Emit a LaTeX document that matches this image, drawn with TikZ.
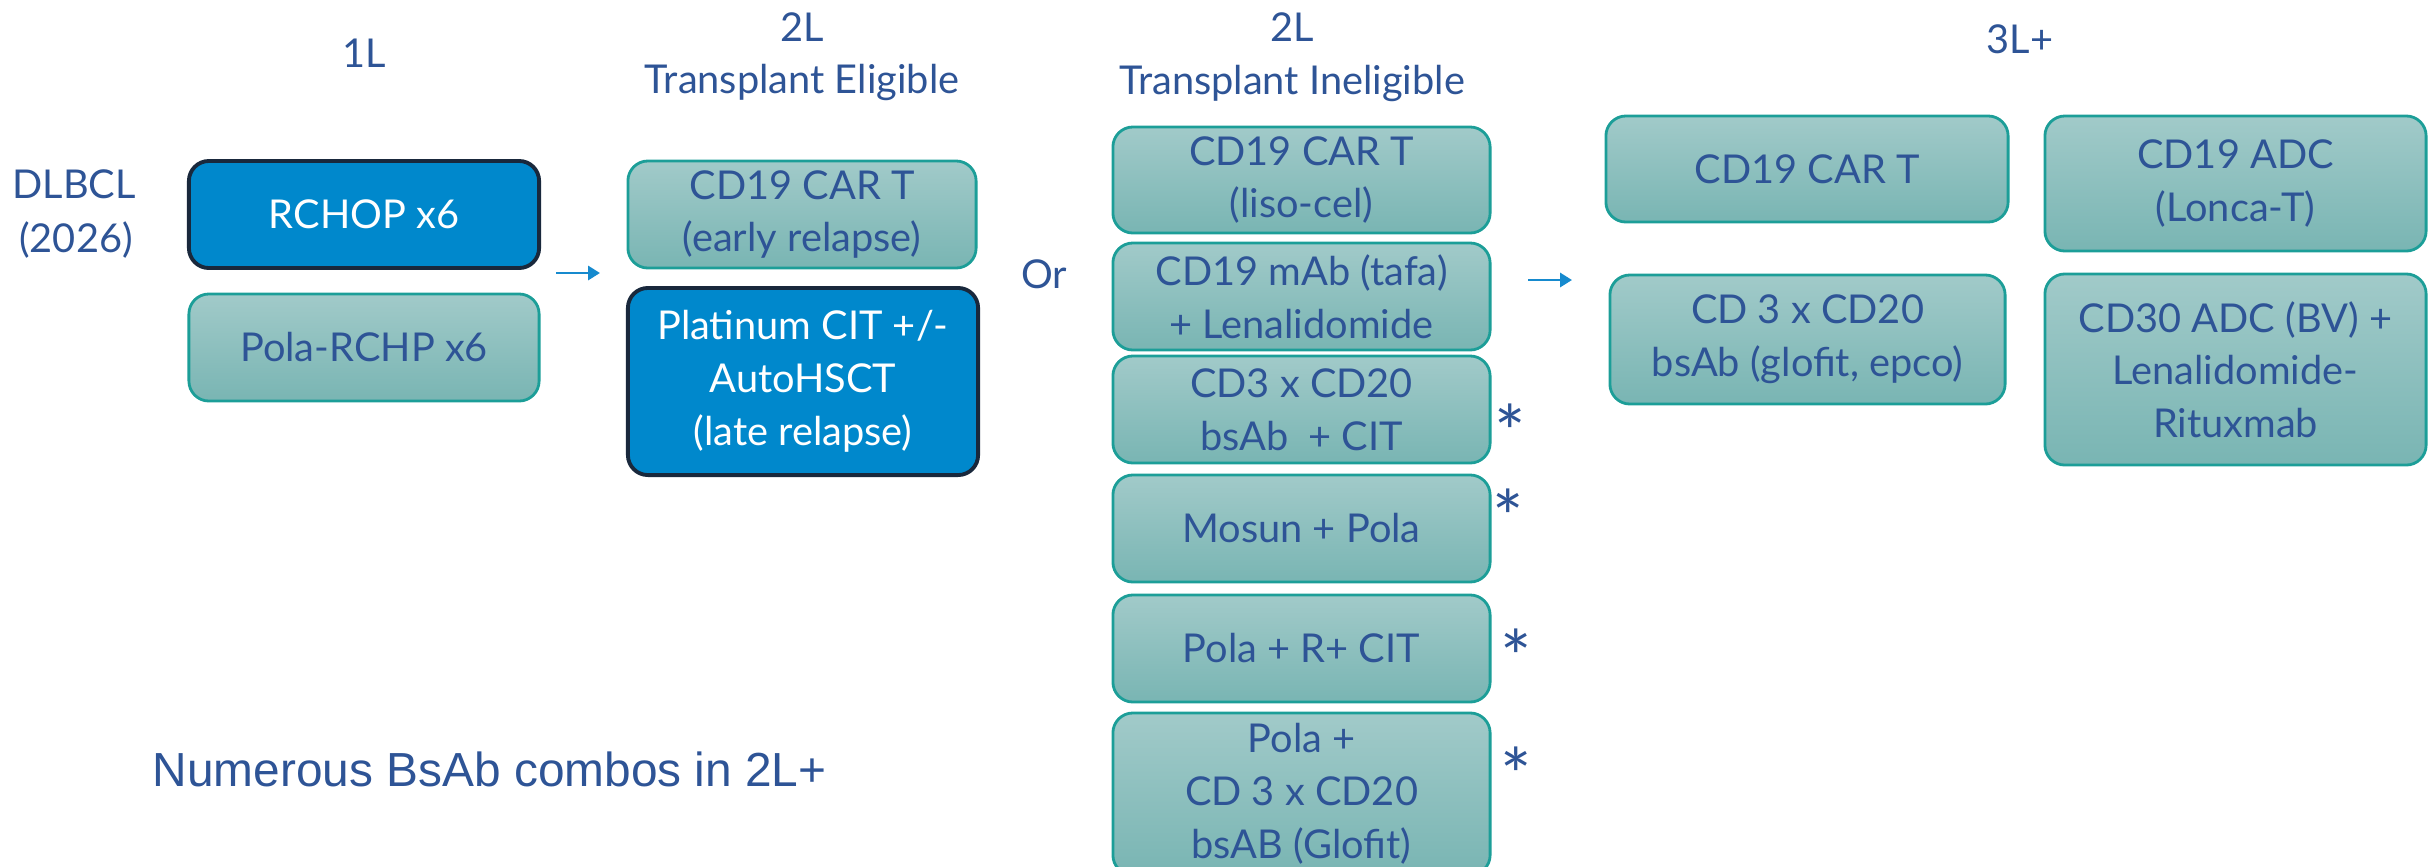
\documentclass[tikz,border=0pt]{standalone}
\usepackage{fontspec}
\usetikzlibrary{arrows.meta}
\newfontfamily\lato{Lato}
\newfontfamily\arialike{Liberation Sans}
\definecolor{boxblue}{RGB}{0,136,204}
\definecolor{navyedge}{RGB}{25,40,60}
\definecolor{tealtop}{RGB}{161,202,201}
\definecolor{tealbot}{RGB}{121,181,179}
\definecolor{tealedge}{RGB}{28,158,152}
\definecolor{txtblue}{RGB}{46,84,150}
\definecolor{arrowblue}{RGB}{22,138,206}
\newcommand{\boxfont}{\lato\fontsize{11.3}{15}\selectfont}
\tikzset{
  box/.style={rounded corners=0.2cm, inner sep=0pt, align=center, font=\boxfont, text=txtblue},
  tealbox/.style={box, draw=tealedge, line width=0.8pt, top color=tealtop, bottom color=tealbot},
  bluebox/.style={box, draw=navyedge, line width=1.1pt, fill=boxblue, text=white},
  hdr/.style={font=\boxfont, text=txtblue, align=center, inner sep=0pt, anchor=base},
  star/.style={font=\lato\fontsize{21}{21}\selectfont, text=txtblue, inner sep=0pt, anchor=north},
  flow/.style={draw=arrowblue, line width=0.8pt, -{Triangle[length=3.4pt,width=4pt]}},
}
\begin{document}
\begin{tikzpicture}[x=0.01cm, y=-0.01cm]
\useasboundingbox (0,0) rectangle (2428,866);
\clip (0,0) rectangle (2428,866);

% column headings
\node[hdr] (h1) at (364,67) {1L};
\node[hdr] (h2a) at (802,41) {2L};
\node[hdr] (h2b) at (802,93) {Transplant Eligible};
\node[hdr] (h3a) at (1292,41) {2L};
\node[hdr] (h3b) at (1292,94) {Transplant Ineligible};
\node[hdr] (h4) at (2020,53) {3L+};

% disease label
\node[hdr] (dis1) at (74,198) {DLBCL};
\node[hdr] (dis2) at (76,252) {(2026)};

% first line
\node[bluebox, minimum width=3.5cm, minimum height=1.07cm] (rchop) at (364,214.5) {RCHOP x6};
\node[tealbox, minimum width=3.5cm, minimum height=1.07cm] (polar) at (364,347.5) {Pola-RCHP x6};

% second line, transplant eligible
\node[tealbox, minimum width=3.48cm, minimum height=1.07cm] (cart2) at (802,214.5) {CD19 CAR T\\(early relapse)};
\node[bluebox, minimum width=3.5cm, minimum height=1.87cm] (plat) at (803,381.5) {Platinum CIT +/-\\AutoHSCT\\(late relapse)};

\node[hdr] (or) at (1044,288) {Or};

% second line, transplant ineligible
\node[tealbox, minimum width=3.77cm, minimum height=1.06cm] (liso) at (1301.5,180) {CD19 CAR T\\(liso-cel)};
\node[tealbox, minimum width=3.77cm, minimum height=1.07cm] (tafa) at (1301.5,296.5) {CD19 mAb (tafa)\\+ Lenalidomide};
\node[tealbox, minimum width=3.77cm, minimum height=1.07cm] (bsab) at (1301.5,409.5) {CD3 x CD20\\bsAb\ \ + CIT};
\node[tealbox, minimum width=3.77cm, minimum height=1.07cm] (mosun) at (1301.5,528.5) {Mosun + Pola};
\node[tealbox, minimum width=3.77cm, minimum height=1.07cm] (polacit) at (1301.5,648.5) {Pola + R+ CIT};
\node[tealbox, minimum width=3.77cm, minimum height=1.62cm] (polagl) at (1301.5,794) {Pola +\\CD 3 x CD20\\bsAB (Glofit)};

% marks beside the combination boxes
\node[star] (s1) at (1510,403) {*};
\node[star] (s2) at (1508,488) {*};
\node[star] (s3) at (1516,628) {*};
\node[star] (s4) at (1516,746) {*};

% third line and beyond
\node[tealbox, minimum width=4.02cm, minimum height=1.06cm] (cart3) at (1807,169) {CD19 CAR T};
\node[tealbox, minimum width=3.81cm, minimum height=1.35cm] (adc19) at (2235.5,183.5) {CD19 ADC\\(Lonca-T)};
\node[tealbox, minimum width=3.95cm, minimum height=1.29cm] (glofit) at (1807.5,339.5) {CD 3 x CD20\\bsAb (glofit, epco)};
\node[tealbox, minimum width=3.81cm, minimum height=1.91cm] (adc30) at (2235.5,369.5) {CD30 ADC (BV) +\\Lenalidomide-\\Rituxmab};

% transition arrows
\coordinate (a1s) at (556,273);
\coordinate (a1e) at (600,273);
\coordinate (a2s) at (1528,280);
\coordinate (a2e) at (1572,280);
\draw[flow] (a1s) -- (a1e);
\draw[flow] (a2s) -- (a2e);

% footnote
\node[font=\arialike\fontsize{13.6}{16}\selectfont, text=txtblue, anchor=base west, inner sep=0pt] (note) at (152,786) {Numerous BsAb combos in 2L+};
\end{tikzpicture}
\end{document}
